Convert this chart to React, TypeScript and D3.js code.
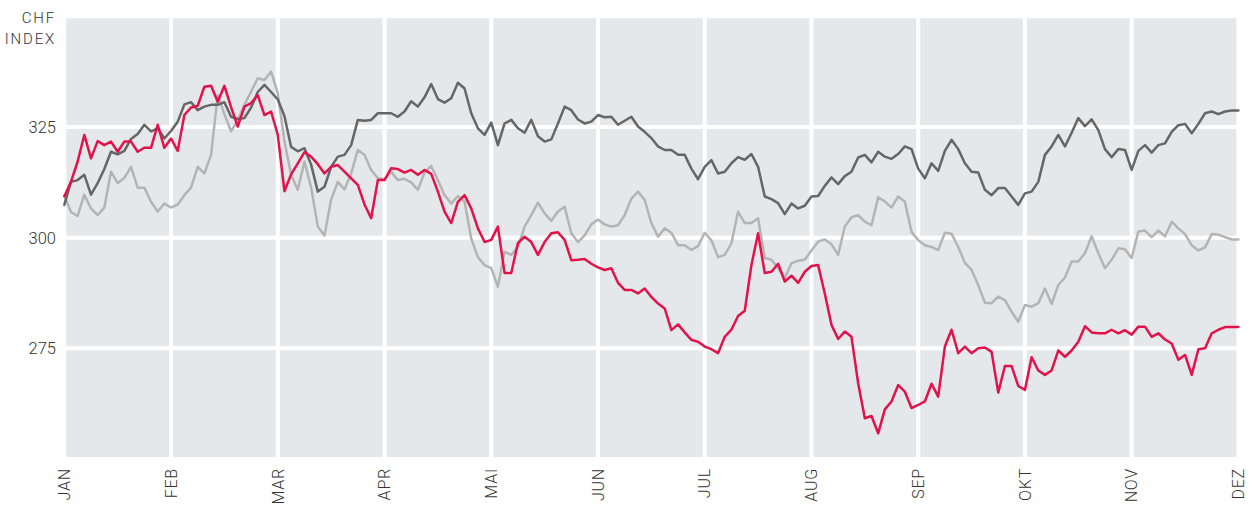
import React from 'react';
import * as d3 from 'd3';

const months = ['JAN', 'FEB', 'MAR', 'APR', 'MAI', 'JUN', 'JUL', 'AUG', 'SEP', 'OKT', 'NOV', 'DEZ'];
const yTicks = [275, 300, 325];
const yGrid = [250, 275, 300, 325, 350];

// daily-ish index values, evenly spaced from JAN to DEZ
const redSeries = [
  309.3, 312.6, 317.2, 323.2, 317.9, 321.8, 320.9, 321.7, 319.4, 321.7,
  321.7, 319.4, 320.3, 320.3, 325.5, 320.3, 322.4, 319.6, 327.7, 329.4,
  329.8, 334.1, 334.3, 330.7, 334.3, 329.5, 325.1, 329.6, 330.4, 332.2,
  327.7, 328.5, 323.2, 310.5, 314.3, 316.8, 319.3, 318.3, 316.6, 314.5,
  316.0, 316.4, 314.9, 313.4, 311.9, 307.5, 304.4, 313.0, 313.0, 315.7,
  315.5, 314.7, 315.3, 314.2, 315.3, 314.4, 310.4, 305.9, 303.3, 308.1,
  309.6, 306.6, 302.1, 299.0, 299.5, 302.5, 292.0, 292.0, 298.8, 300.2,
  299.0, 296.1, 299.0, 301.0, 301.2, 299.5, 294.9, 295.0, 295.2, 294.1,
  293.3, 292.7, 293.1, 289.8, 288.2, 288.2, 287.4, 288.5, 286.6, 285.1,
  284.0, 279.1, 280.4, 278.6, 276.9, 276.5, 275.4, 274.8, 273.9, 277.6,
  279.2, 282.3, 283.5, 293.8, 301.0, 292.0, 292.3, 294.1, 290.1, 291.4,
  289.8, 292.3, 293.6, 293.8, 287.4, 280.3, 277.1, 278.8, 277.6, 267.1,
  259.2, 259.7, 255.8, 261.2, 263.0, 266.7, 265.2, 261.5, 262.2, 263.0,
  267.0, 264.1, 275.4, 279.2, 273.9, 275.4, 273.9, 275.0, 275.2, 274.2,
  265.0, 271.0, 271.0, 266.5, 265.6, 273.0, 270.0, 269.0, 270.0, 274.5,
  273.1, 274.5, 276.5, 280.0, 278.6, 278.4, 278.4, 279.2, 278.4, 279.1,
  278.1, 279.9, 279.9, 277.6, 278.4, 277.0, 276.1, 272.4, 273.5, 269.0,
  274.8, 275.0, 278.4, 279.2, 279.8, 279.8, 279.8,
];

const darkSeries = [
  307.4, 312.6, 313.0, 314.2, 309.7, 312.3, 315.5, 319.4, 318.8, 319.6,
  322.3, 323.4, 325.5, 324.0, 324.7, 322.4, 324.1, 326.2, 330.1, 330.6,
  328.8, 329.6, 330.0, 330.0, 330.6, 327.3, 326.8, 327.0, 329.4, 332.9,
  334.5, 332.9, 331.2, 327.5, 320.5, 319.5, 320.2, 316.5, 310.4, 311.5,
  316.0, 318.3, 318.7, 320.9, 326.6, 326.4, 326.6, 328.1, 328.1, 328.1,
  327.3, 328.5, 330.8, 329.6, 331.7, 334.7, 331.3, 330.5, 331.5, 335.0,
  333.7, 328.1, 324.7, 323.2, 326.0, 320.9, 325.8, 326.6, 324.7, 323.7,
  326.6, 322.9, 321.7, 322.2, 325.8, 329.6, 328.8, 326.7, 325.8, 326.2,
  327.7, 327.2, 327.3, 325.5, 326.4, 327.3, 325.1, 323.9, 322.5, 320.6,
  319.8, 319.8, 318.7, 318.7, 315.6, 313.2, 316.0, 317.5, 314.5, 314.9,
  316.8, 318.2, 317.6, 318.9, 316.0, 309.3, 308.7, 307.8, 305.3, 307.7,
  306.6, 307.2, 309.3, 309.4, 311.7, 313.6, 312.1, 313.9, 314.9, 318.1,
  318.7, 317.0, 319.4, 318.3, 317.8, 318.9, 320.6, 320.0, 315.6, 313.4,
  316.8, 315.1, 319.6, 322.1, 320.0, 316.8, 314.9, 314.7, 310.8, 309.6,
  311.2, 311.2, 309.3, 307.4, 310.0, 310.4, 312.6, 318.7, 320.6, 323.2,
  320.6, 323.7, 327.0, 325.2, 326.7, 324.3, 320.0, 318.2, 320.0, 319.8,
  315.3, 319.6, 320.9, 319.2, 320.9, 321.3, 323.9, 325.4, 325.7, 323.6,
  325.7, 328.1, 328.5, 327.9, 328.5, 328.7, 328.7,
];

const lightSeries = [
  309.5, 305.8, 304.9, 309.7, 306.6, 305.1, 306.8, 314.9, 312.3, 313.5,
  316.0, 311.3, 311.3, 308.1, 305.9, 307.7, 306.8, 307.5, 309.6, 311.3,
  316.0, 314.5, 318.7, 332.2, 327.9, 324.0, 326.6, 330.0, 333.0, 336.0,
  335.6, 337.5, 332.7, 321.7, 314.2, 310.8, 317.2, 311.3, 302.5, 300.5,
  308.6, 312.6, 310.9, 314.5, 319.8, 318.7, 315.3, 313.4, 313.2, 314.9,
  313.0, 313.3, 312.5, 310.8, 314.7, 316.2, 313.0, 309.6, 307.7, 309.4,
  308.1, 299.8, 295.6, 293.8, 293.1, 288.9, 296.8, 296.1, 297.9, 302.5,
  305.1, 307.9, 305.5, 303.8, 305.9, 307.0, 301.0, 299.0, 300.5, 303.0,
  304.1, 303.0, 302.5, 302.8, 305.1, 308.8, 310.4, 308.5, 303.3, 300.2,
  302.1, 301.1, 298.3, 298.3, 297.2, 298.1, 301.1, 299.4, 295.6, 296.1,
  298.7, 305.9, 303.3, 303.3, 304.4, 295.4, 295.0, 293.1, 290.9, 294.2,
  294.8, 295.0, 297.1, 299.1, 299.6, 298.5, 296.1, 302.5, 304.6, 305.1,
  303.6, 302.8, 309.1, 308.2, 306.8, 309.3, 308.1, 301.3, 299.4, 298.3,
  297.9, 297.2, 301.1, 300.9, 297.9, 294.3, 292.7, 289.3, 285.3, 285.2,
  286.7, 285.9, 283.3, 281.0, 284.8, 284.4, 285.2, 288.5, 285.0, 289.3,
  291.0, 294.6, 294.6, 296.5, 300.3, 296.5, 293.1, 295.0, 297.6, 297.4,
  295.4, 301.4, 301.6, 300.1, 301.6, 300.3, 303.6, 302.1, 300.8, 298.3,
  297.1, 297.8, 300.8, 300.7, 300.1, 299.6, 299.6,
];

const series = [
  { name: 'light', values: lightSeries, color: '#b4b4b4' },
  { name: 'dark', values: darkSeries, color: '#666666' },
  { name: 'red', values: redSeries, color: '#e2134b' },
];

const W = 1250;
const H = 505;
const FONT = 'Roboto, "Liberation Sans", sans-serif';

export default function App() {
  const x = d3.scaleLinear().domain([0, months.length - 1]).range([64.3, 1238.4]);
  const y = d3.scaleLinear().domain([250, 350]).range([459, 16.3]);

  const lineFor = (vals: number[]) =>
    d3.line<number>()
      .x((_, i) => x((i / (vals.length - 1)) * (months.length - 1)))
      .y(d => y(d))(vals) || '';

  return (
    <svg width={W} height={H} style={{ position: 'absolute', left: 0, top: 0, background: '#fff' }}>
      <rect x={x(0)} y={y(350)} width={x(11) - x(0)} height={y(250) - y(350)} fill="#e5e8eb" />

      {/* grid */}
      {months.map((m, i) => (
        <line key={m} x1={x(i)} x2={x(i)} y1={y(350) - 2} y2={y(250) + 2} stroke="#fff" strokeWidth={4} />
      ))}
      {yGrid.map(v => (
        <line key={v} x1={x(0)} x2={x(11)} y1={y(v)} y2={y(v)} stroke="#fff" strokeWidth={4} />
      ))}

      {/* series */}
      {series.map(s => (
        <path key={s.name} d={lineFor(s.values)} fill="none" stroke={s.color}
          strokeWidth={2.5} strokeLinejoin="round" strokeLinecap="round" />
      ))}

      {/* y labels */}
      {yTicks.map(v => (
        <text key={v} x={56} y={y(v)} dy="0.36em" textAnchor="end" fontFamily={FONT}
          fontWeight={300} fontSize={16.5} fill="#333">{v}</text>
      ))}
      <text x={56} y={22.5} textAnchor="end" fontFamily={FONT} fontWeight={300}
        fontSize={15} letterSpacing={1.8} fill="#333">CHF</text>
      <text x={56} y={43.5} textAnchor="end" fontFamily={FONT} fontWeight={300}
        fontSize={15} letterSpacing={1.8} fill="#333">INDEX</text>

      {/* x labels */}
      {months.map((m, i) => (
        <text key={m} transform={`translate(${x(i)},468) rotate(-90)`} dy="0.36em"
          textAnchor="end" fontFamily={FONT} fontWeight={300} fontSize={16}
          letterSpacing={0.8} fill="#333">{m}</text>
      ))}
    </svg>
  );
}
